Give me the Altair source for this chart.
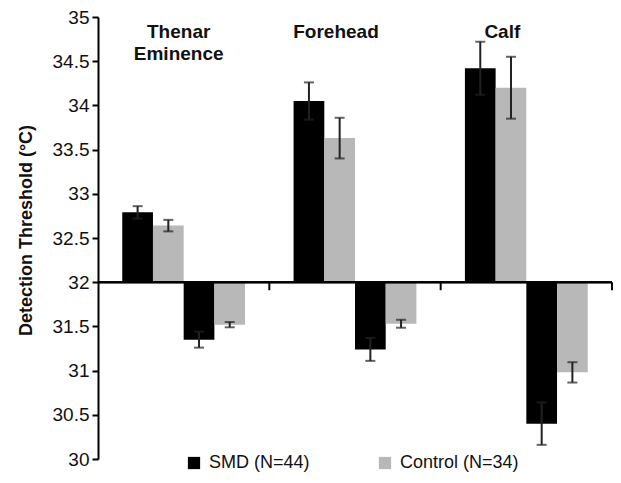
import altair as alt
import pandas as pd

sites = ["Thenar Eminence", "Forehead", "Calf"]
bars = ["SMD warm", "Control warm", "SMD cool", "Control cool"]
groups = ["SMD (N=44)", "Control (N=34)", "SMD (N=44)", "Control (N=34)"]

# values per site, order follows `bars`
values = {
    "Thenar Eminence": [32.79, 32.64, 31.35, 31.52],
    "Forehead": [34.05, 33.63, 31.24, 31.53],
    "Calf": [34.42, 34.20, 30.40, 30.98],
}
errors = {
    "Thenar Eminence": [0.07, 0.065, 0.09, 0.03],
    "Forehead": [0.21, 0.23, 0.13, 0.045],
    "Calf": [0.30, 0.35, 0.24, 0.115],
}
baseline = 32
label_lines = {
    "Thenar Eminence": ["Thenar", "Eminence"],
    "Forehead": ["Forehead"],
    "Calf": ["Calf"],
}
label_dx = {"Thenar Eminence": -5, "Forehead": -19, "Calf": -24}

rows = []
for s in sites:
    for b, g, v, e in zip(bars, groups, values[s], errors[s]):
        rows.append({"site": s, "bar": b, "group": g, "value": v,
                     "base": baseline, "lo": v - e, "hi": v + e})
df = pd.DataFrame(rows)

W, H = 514, 442
FONT = "Liberation Sans"
YMIN, YMAX = 30, 35

x = alt.X("site:N", sort=sites, title=None, axis=None,
          scale=alt.Scale(paddingInner=0, paddingOuter=0))
xo = alt.XOffset("bar:N", sort=bars,
                 scale=alt.Scale(paddingInner=0, paddingOuter=0.79))
y = alt.Y("value:Q", title="Detection Threshold (°C)",
          scale=alt.Scale(domain=[YMIN, YMAX], nice=False, zero=False),
          axis=alt.Axis(values=[30, 30.5, 31, 31.5, 32, 32.5, 33, 33.5, 34, 34.5, 35],
                        format="~g", grid=False, tickSize=6, tickWidth=2,
                        domainWidth=2, domainColor="black", tickColor="black",
                        labelFontSize=19, labelColor="#111", labelFont=FONT,
                        labelPadding=3,
                        titleFontSize=18, titleFont=FONT, titleFontWeight="bold",
                        titleColor="#111", titleX=-63, titleY=H / 2 - 8))

color = alt.Color("group:N",
                  scale=alt.Scale(domain=["SMD (N=44)", "Control (N=34)"],
                                  range=["#000000", "#b8b8b8"]),
                  legend=alt.Legend(title=None, orient="none", direction="horizontal",
                                    legendX=87, legendY=437, symbolType="square",
                                    symbolSize=150, symbolStrokeWidth=0,
                                    labelFontSize=18, labelFont=FONT, labelColor="#111",
                                    columnPadding=66, labelOffset=6))

base = alt.Chart(df)
bar_layer = base.mark_bar().encode(x=x, xOffset=xo, y=y, y2="base:Q", color=color)
xs = alt.X("site:N", sort=sites)
xos = alt.XOffset("bar:N", sort=bars)
err = base.mark_rule(color="#222", strokeWidth=2).encode(
    x=xs, xOffset=xos, y="lo:Q", y2="hi:Q")
cap_hi = base.mark_tick(color="#222", thickness=2, size=10).encode(
    x=xs, xOffset=xos, y="hi:Q")
cap_lo = base.mark_tick(color="#222", thickness=2, size=10).encode(
    x=xs, xOffset=xos, y="lo:Q")

bdf = pd.DataFrame({"site": sites, "v": [baseline] * len(sites)})
base_line = alt.Chart(bdf).mark_rule(color="black", strokeWidth=2).encode(
    y="v:Q", x=alt.value(0), x2=alt.value(W))
base_px = H * (YMAX - baseline) / (YMAX - YMIN)
sep_ticks = alt.Chart(bdf).mark_rule(color="black", strokeWidth=2).encode(
    x=alt.X("site:N", sort=sites, bandPosition=1), y="v:Q", y2=alt.value(base_px + 8))

label_layers = []
for s in sites:
    ldf = pd.DataFrame({"site": [s], "text": [label_lines[s]], "yv": [34.93]})
    label_layers.append(
        alt.Chart(ldf).mark_text(fontSize=19, fontWeight="bold", font=FONT,
                                 color="#111", baseline="top", dx=label_dx[s],
                                 lineHeight=22)
        .encode(x=xs, y=alt.Y("yv:Q"), text="text"))

chart = alt.layer(bar_layer, err, cap_hi, cap_lo, base_line, sep_ticks,
                  *label_layers).properties(
    width=W, height=H,
    background="white",
    autosize=alt.AutoSizeParams(type="none"),
    padding={"left": 90, "top": 9, "right": 1, "bottom": 16},
).configure_view(stroke="transparent", strokeWidth=0)

chart.save("out.html", embed_options={"renderer": "svg", "actions": False})
